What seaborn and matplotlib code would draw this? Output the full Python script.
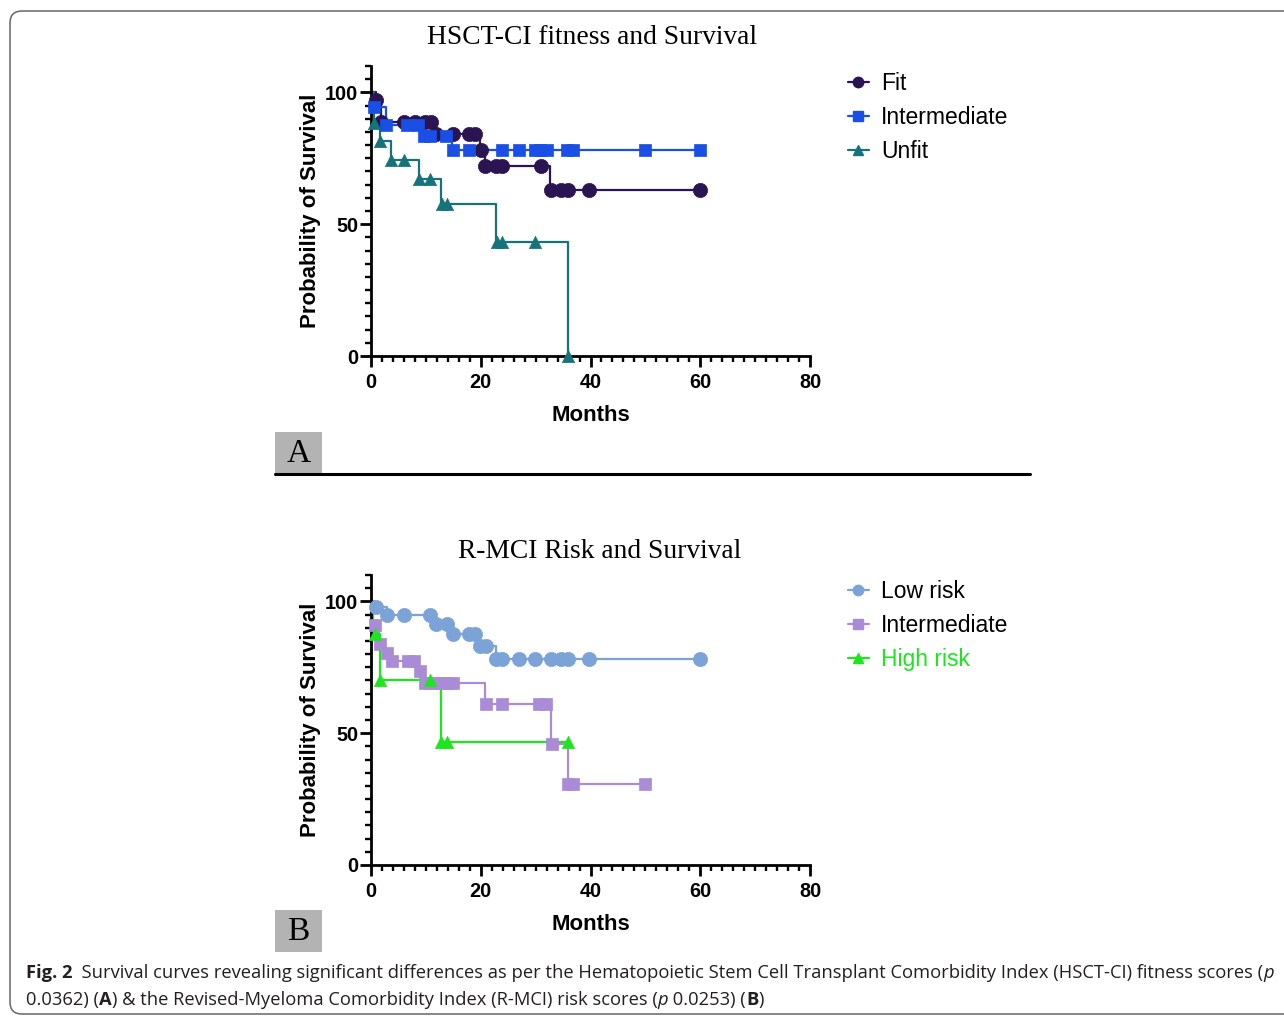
import numpy as np
import pandas as pd
import seaborn as sns
import matplotlib.pyplot as plt
from matplotlib.lines import Line2D
from matplotlib.patches import FancyBboxPatch, Rectangle
from matplotlib.ticker import MultipleLocator

# --- panel A: HSCT-CI fitness (step times / survival %, censor marks)
fit_t = [0, 0.9, 1.8, 11.8, 19.8, 20.8, 32.7, 60.0]
fit_s = [100, 97.0, 88.7, 84.3, 78.0, 72.0, 63.0, 63.0]
fit_marks = [0.9, 1.8, 6.0, 8.0, 9.8, 10.9, 11.8, 14.9, 17.8, 19.0, 20.0, 20.8,
             22.7, 23.8, 30.9, 32.8, 34.7, 35.9, 39.8, 60.0]

inter_a_t = [0, 0.3, 2.8, 9.2, 14.8, 60.0]
inter_a_s = [100, 94.4, 87.7, 83.3, 78.0, 78.0]
inter_a_marks = [0.6, 2.8, 6.6, 8.5, 9.7, 10.8, 13.6, 15.0, 17.8, 23.8, 26.9,
                 29.8, 30.8, 32.0, 35.8, 36.9, 49.9, 60.0]

unfit_t = [0, 0.5, 1.7, 3.7, 8.8, 12.8, 22.8, 35.9]
unfit_s = [100, 88.4, 81.6, 74.4, 67.1, 57.5, 43.2, 0.0]
unfit_marks = [0.5, 1.7, 3.7, 6.0, 8.8, 10.8, 13.0, 13.8, 22.9, 23.8, 29.9, 35.9]

# --- panel B: R-MCI risk
low_t = [0, 0.6, 2.9, 11.4, 14.5, 19.7, 22.7, 60.0]
low_s = [100, 97.9, 94.7, 91.5, 87.8, 83.2, 78.3, 78.3]
low_marks = [0.9, 2.9, 6.0, 10.8, 11.8, 13.9, 14.9, 17.8, 19.0, 19.9, 20.9, 22.8,
             23.8, 26.9, 29.8, 32.8, 34.7, 35.9, 39.8, 60.0]

inter_b_t = [0, 0.4, 1.5, 2.6, 3.5, 8.6, 9.4, 20.8, 32.8, 35.9, 49.9]
inter_b_s = [100, 90.9, 84.0, 80.6, 77.3, 73.5, 68.9, 61.1, 45.8, 30.7, 30.7]
inter_b_marks = [0.7, 1.7, 2.9, 3.9, 6.8, 7.9, 8.9, 9.8, 10.8, 11.8, 12.8, 13.8,
                 15.0, 20.9, 23.8, 30.6, 31.9, 32.9, 35.9, 36.9, 49.9]

high_t = [0, 0.4, 1.6, 12.8, 35.9]
high_s = [100, 87.8, 70.1, 46.5, 46.5]
high_marks = [0.7, 1.7, 10.8, 12.8, 13.8, 35.9]

x_ticks = [0, 20, 40, 60, 80]
y_ticks = [0, 50, 100]

W, H = 1284, 1016
sns.set_style("ticks")
plt.rcParams['font.family'] = ['Liberation Sans', 'DejaVu Sans']
plt.rcParams['text.color'] = 'black'
plt.rcParams['axes.labelcolor'] = 'black'
plt.rcParams['xtick.color'] = 'black'
plt.rcParams['ytick.color'] = 'black'

fig = plt.figure(figsize=(W / 100, H / 100), dpi=100)


def fpx(x, y):
    return x / W, 1 - y / H


def level_at(t, s, m):
    idx = np.searchsorted(t, m, side='right') - 1
    return np.asarray(s)[idx]


def draw_group(ax, t, s, marks, color, marker, size, label):
    sns.lineplot(x=t, y=s, ax=ax, color=color, lw=1.6, drawstyle='steps-post',
                 estimator=None, sort=False, zorder=2)
    marks_df = pd.DataFrame({'t': marks, 's': level_at(t, s, marks)})
    sns.scatterplot(data=marks_df, x='t', y='s', ax=ax, color=color, marker=marker,
                    s=size, edgecolor=color, linewidth=0.5, zorder=3, clip_on=False)
    return Line2D([], [], color=color, marker=marker, markersize=7.5, lw=1.6, label=label)


def style_axes(ax):
    ax.set_xlim(0, 80)
    ax.set_ylim(0, 110)
    ax.set_xticks(x_ticks)
    ax.set_yticks(y_ticks)
    ax.xaxis.set_minor_locator(MultipleLocator(2))
    ax.yaxis.set_minor_locator(MultipleLocator(5))
    sns.despine(ax=ax)
    for sp in ['left', 'bottom']:
        ax.spines[sp].set_linewidth(2.0)
        ax.spines[sp].set_color('black')
    ax.tick_params(which='major', length=8, width=2.0, color='black', labelcolor='black')
    ax.tick_params(which='minor', length=4.5, width=1.7, color='black')
    ax.tick_params(axis='x', which='major', pad=4.5)
    ax.tick_params(axis='y', which='major', pad=1)
    for lab in ax.get_xticklabels() + ax.get_yticklabels():
        lab.set_fontweight('bold')
        lab.set_fontsize(14.3)
    ax.set_xlabel('Months', fontsize=16, fontweight='bold', labelpad=9, color='black')
    ax.set_ylabel('Probability of Survival', fontsize=16, fontweight='bold', labelpad=3,
                  color='black')
    ax.set_facecolor('none')


# ---------------- panel A
axA = fig.add_axes([371 / W, 1 - 356 / H, (810 - 371) / W, (356 - 66) / H])
hA = [draw_group(axA, fit_t, fit_s, fit_marks, '#2a1452', 'o', 105, 'Fit'),
      draw_group(axA, inter_a_t, inter_a_s, inter_a_marks, '#1a4fe6', 's', 72, 'Intermediate'),
      draw_group(axA, unfit_t, unfit_s, unfit_marks, '#16737a', '^', 78, 'Unfit')]
style_axes(axA)
axA.legend(handles=hA, loc='upper left', bbox_to_anchor=fpx(848, 72),
           bbox_transform=fig.transFigure, frameon=False, fontsize=16.5,
           handlelength=0.9, handletextpad=0.55, labelspacing=0.47,
           borderpad=0, borderaxespad=0)
fig.text(*fpx(592, 38), 'HSCT-CI fitness and Survival', ha='center', va='center',
         fontsize=19.8, family='Liberation Serif')

# ---------------- panel B
axB = fig.add_axes([371 / W, 1 - 865 / H, (810 - 371) / W, (865 - 575) / H])
hB = [draw_group(axB, low_t, low_s, low_marks, '#7ba3d8', 'o', 105, 'Low risk'),
      draw_group(axB, inter_b_t, inter_b_s, inter_b_marks, '#a98bd6', 's', 72, 'Intermediate'),
      draw_group(axB, high_t, high_s, high_marks, '#1ee61e', '^', 78, 'High risk')]
style_axes(axB)
legB = axB.legend(handles=hB, loc='upper left', bbox_to_anchor=fpx(848, 580),
                  bbox_transform=fig.transFigure, frameon=False, fontsize=16.5,
                  handlelength=0.9, handletextpad=0.55, labelspacing=0.47,
                  borderpad=0, borderaxespad=0)
legB.get_texts()[2].set_color('#1ee61e')
fig.text(*fpx(600, 552), 'R-MCI Risk and Survival', ha='center', va='center',
         fontsize=19.8, family='Liberation Serif')

# ---------------- panel letters and divider
for letter, top in [('A', 432), ('B', 910)]:
    fig.patches.append(Rectangle(fpx(275, top + 42), 47 / W, 42 / H,
                                 transform=fig.transFigure, facecolor='#b3b3b3',
                                 edgecolor='none'))
    fig.text(*fpx(298.5, top + 22), letter, ha='center', va='center', fontsize=24,
             family='Liberation Serif')
fig.add_artist(Line2D([275 / W, 1030 / W], [1 - 474 / H, 1 - 474 / H],
                      transform=fig.transFigure, color='black', lw=2.2))

# ---------------- outer rounded frame
fig.patches.append(FancyBboxPatch((0.1, 0.02), 13.5, 10.03,
                                  boxstyle='round,pad=0,rounding_size=0.12',
                                  transform=fig.dpi_scale_trans, facecolor='none',
                                  edgecolor='#666666', lw=1.1))

# ---------------- caption with mixed styles
fig.canvas.draw()
renderer = fig.canvas.get_renderer()
cap_font = 'Open Sans'
cap_size = 13.2


def put_runs(x, y, runs):
    for txt, weight, style in runs:
        t = fig.text(*fpx(x, y), txt, fontsize=cap_size, family=cap_font,
                     fontweight=weight, fontstyle=style, va='baseline', ha='left',
                     color='#231f20')
        x += t.get_window_extent(renderer).width


put_runs(26, 978, [('Fig. 2', 'bold', 'normal'),
                   ('  Survival curves revealing significant differences as per the '
                    'Hematopoietic Stem Cell Transplant Comorbidity Index (HSCT-CI) '
                    'fitness scores (', 'normal', 'normal'),
                   ('p', 'normal', 'italic')])
put_runs(26, 1005, [('0.0362) (', 'normal', 'normal'), ('A', 'bold', 'normal'),
                    (') & the Revised-Myeloma Comorbidity Index (R-MCI) risk scores (',
                     'normal', 'normal'),
                    ('p', 'normal', 'italic'), (' 0.0253) (', 'normal', 'normal'),
                    ('B', 'bold', 'normal'), (')', 'normal', 'normal')])

fig.savefig('out.png', dpi=100)
